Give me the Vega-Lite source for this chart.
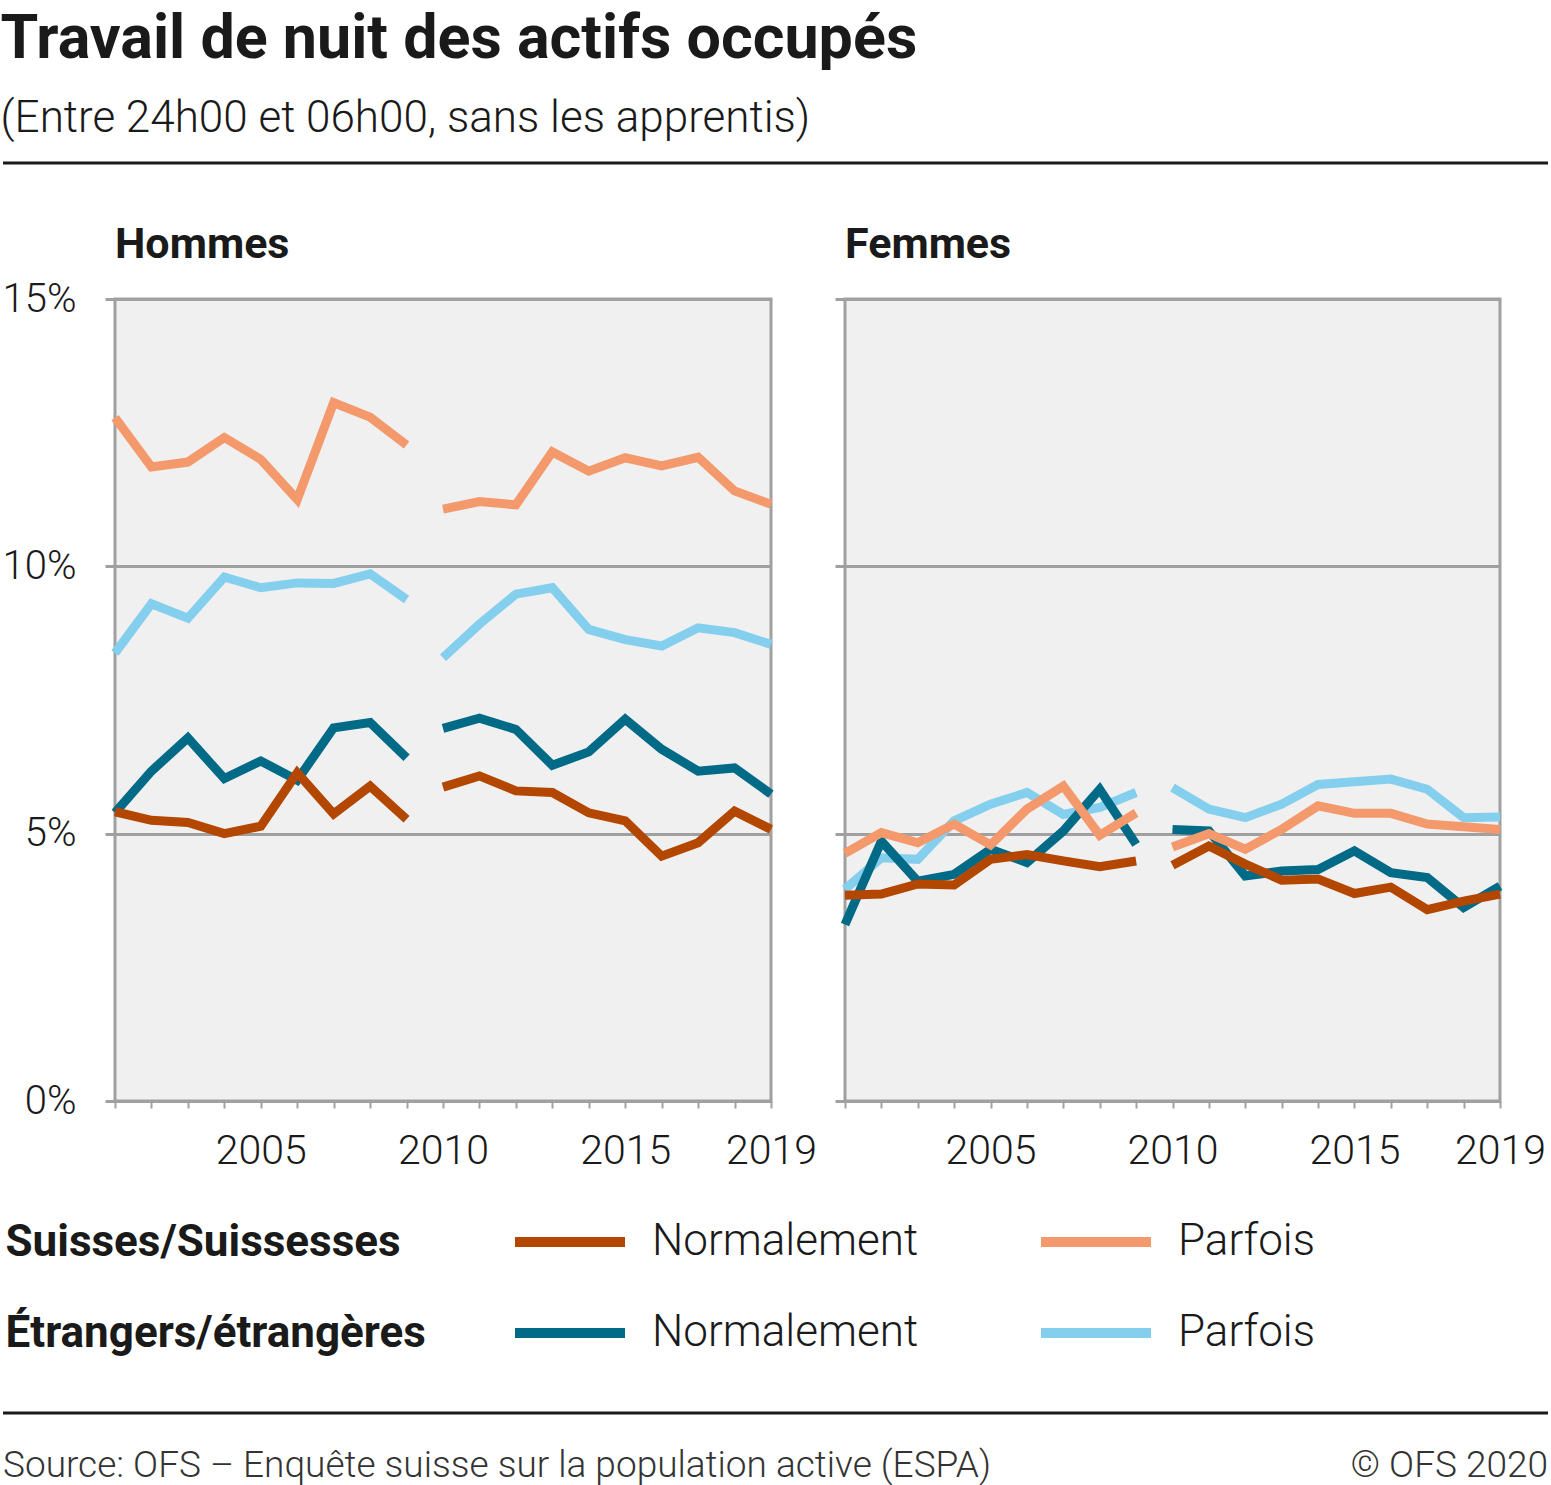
{
  "$schema": "https://vega.github.io/schema/vega-lite/v6.json",
  "padding": {"left": 0, "right": 3, "top": 8, "bottom": 0},
  "background": "white",
  "config": {"view": {"stroke": null}, "font": "Roboto"},
  "title": {
    "text": "Travail de nuit des actifs occupés",
    "subtitle": "(Entre 24h00 et 06h00, sans les apprentis)",
    "anchor": "start", "frame": "bounds",
    "font": "Roboto", "fontSize": 61, "fontWeight": "bold", "color": "#1a1a1a",
    "subtitleFont": "Roboto", "subtitleFontSize": 44, "subtitleFontWeight": 300, "subtitleColor": "#1a1a1a",
    "subtitlePadding": 26, "offset": 20
  },
  "datasets": {
    "nuit": [
      {"sexe":"Hommes","annee":2001,"serie":"Étrangers – Parfois","periode":"2001-2009","valeur":8.38},
      {"sexe":"Hommes","annee":2002,"serie":"Étrangers – Parfois","periode":"2001-2009","valeur":9.30},
      {"sexe":"Hommes","annee":2003,"serie":"Étrangers – Parfois","periode":"2001-2009","valeur":9.03},
      {"sexe":"Hommes","annee":2004,"serie":"Étrangers – Parfois","periode":"2001-2009","valeur":9.80},
      {"sexe":"Hommes","annee":2005,"serie":"Étrangers – Parfois","periode":"2001-2009","valeur":9.60},
      {"sexe":"Hommes","annee":2006,"serie":"Étrangers – Parfois","periode":"2001-2009","valeur":9.69},
      {"sexe":"Hommes","annee":2007,"serie":"Étrangers – Parfois","periode":"2001-2009","valeur":9.68},
      {"sexe":"Hommes","annee":2008,"serie":"Étrangers – Parfois","periode":"2001-2009","valeur":9.86},
      {"sexe":"Hommes","annee":2009,"serie":"Étrangers – Parfois","periode":"2001-2009","valeur":9.38},
      {"sexe":"Hommes","annee":2010,"serie":"Étrangers – Parfois","periode":"2010-2019","valeur":8.29},
      {"sexe":"Hommes","annee":2011,"serie":"Étrangers – Parfois","periode":"2010-2019","valeur":8.92},
      {"sexe":"Hommes","annee":2012,"serie":"Étrangers – Parfois","periode":"2010-2019","valeur":9.48},
      {"sexe":"Hommes","annee":2013,"serie":"Étrangers – Parfois","periode":"2010-2019","valeur":9.60},
      {"sexe":"Hommes","annee":2014,"serie":"Étrangers – Parfois","periode":"2010-2019","valeur":8.82},
      {"sexe":"Hommes","annee":2015,"serie":"Étrangers – Parfois","periode":"2010-2019","valeur":8.63},
      {"sexe":"Hommes","annee":2016,"serie":"Étrangers – Parfois","periode":"2010-2019","valeur":8.51},
      {"sexe":"Hommes","annee":2017,"serie":"Étrangers – Parfois","periode":"2010-2019","valeur":8.85},
      {"sexe":"Hommes","annee":2018,"serie":"Étrangers – Parfois","periode":"2010-2019","valeur":8.76},
      {"sexe":"Hommes","annee":2019,"serie":"Étrangers – Parfois","periode":"2010-2019","valeur":8.54},
      {"sexe":"Hommes","annee":2001,"serie":"Étrangers – Normalement","periode":"2001-2009","valeur":5.39},
      {"sexe":"Hommes","annee":2002,"serie":"Étrangers – Normalement","periode":"2001-2009","valeur":6.17},
      {"sexe":"Hommes","annee":2003,"serie":"Étrangers – Normalement","periode":"2001-2009","valeur":6.79},
      {"sexe":"Hommes","annee":2004,"serie":"Étrangers – Normalement","periode":"2001-2009","valeur":6.03},
      {"sexe":"Hommes","annee":2005,"serie":"Étrangers – Normalement","periode":"2001-2009","valeur":6.36},
      {"sexe":"Hommes","annee":2006,"serie":"Étrangers – Normalement","periode":"2001-2009","valeur":6.00},
      {"sexe":"Hommes","annee":2007,"serie":"Étrangers – Normalement","periode":"2001-2009","valeur":6.98},
      {"sexe":"Hommes","annee":2008,"serie":"Étrangers – Normalement","periode":"2001-2009","valeur":7.08},
      {"sexe":"Hommes","annee":2009,"serie":"Étrangers – Normalement","periode":"2001-2009","valeur":6.42},
      {"sexe":"Hommes","annee":2010,"serie":"Étrangers – Normalement","periode":"2010-2019","valeur":6.97},
      {"sexe":"Hommes","annee":2011,"serie":"Étrangers – Normalement","periode":"2010-2019","valeur":7.16},
      {"sexe":"Hommes","annee":2012,"serie":"Étrangers – Normalement","periode":"2010-2019","valeur":6.95},
      {"sexe":"Hommes","annee":2013,"serie":"Étrangers – Normalement","periode":"2010-2019","valeur":6.28},
      {"sexe":"Hommes","annee":2014,"serie":"Étrangers – Normalement","periode":"2010-2019","valeur":6.53},
      {"sexe":"Hommes","annee":2015,"serie":"Étrangers – Normalement","periode":"2010-2019","valeur":7.14},
      {"sexe":"Hommes","annee":2016,"serie":"Étrangers – Normalement","periode":"2010-2019","valeur":6.58},
      {"sexe":"Hommes","annee":2017,"serie":"Étrangers – Normalement","periode":"2010-2019","valeur":6.17},
      {"sexe":"Hommes","annee":2018,"serie":"Étrangers – Normalement","periode":"2010-2019","valeur":6.23},
      {"sexe":"Hommes","annee":2019,"serie":"Étrangers – Normalement","periode":"2010-2019","valeur":5.74},
      {"sexe":"Hommes","annee":2001,"serie":"Suisses – Parfois","periode":"2001-2009","valeur":12.78},
      {"sexe":"Hommes","annee":2002,"serie":"Suisses – Parfois","periode":"2001-2009","valeur":11.86},
      {"sexe":"Hommes","annee":2003,"serie":"Suisses – Parfois","periode":"2001-2009","valeur":11.95},
      {"sexe":"Hommes","annee":2004,"serie":"Suisses – Parfois","periode":"2001-2009","valeur":12.41},
      {"sexe":"Hommes","annee":2005,"serie":"Suisses – Parfois","periode":"2001-2009","valeur":12.00},
      {"sexe":"Hommes","annee":2006,"serie":"Suisses – Parfois","periode":"2001-2009","valeur":11.25},
      {"sexe":"Hommes","annee":2007,"serie":"Suisses – Parfois","periode":"2001-2009","valeur":13.06},
      {"sexe":"Hommes","annee":2008,"serie":"Suisses – Parfois","periode":"2001-2009","valeur":12.79},
      {"sexe":"Hommes","annee":2009,"serie":"Suisses – Parfois","periode":"2001-2009","valeur":12.27},
      {"sexe":"Hommes","annee":2010,"serie":"Suisses – Parfois","periode":"2010-2019","valeur":11.07},
      {"sexe":"Hommes","annee":2011,"serie":"Suisses – Parfois","periode":"2010-2019","valeur":11.21},
      {"sexe":"Hommes","annee":2012,"serie":"Suisses – Parfois","periode":"2010-2019","valeur":11.15},
      {"sexe":"Hommes","annee":2013,"serie":"Suisses – Parfois","periode":"2010-2019","valeur":12.14},
      {"sexe":"Hommes","annee":2014,"serie":"Suisses – Parfois","periode":"2010-2019","valeur":11.78},
      {"sexe":"Hommes","annee":2015,"serie":"Suisses – Parfois","periode":"2010-2019","valeur":12.03},
      {"sexe":"Hommes","annee":2016,"serie":"Suisses – Parfois","periode":"2010-2019","valeur":11.88},
      {"sexe":"Hommes","annee":2017,"serie":"Suisses – Parfois","periode":"2010-2019","valeur":12.04},
      {"sexe":"Hommes","annee":2018,"serie":"Suisses – Parfois","periode":"2010-2019","valeur":11.41},
      {"sexe":"Hommes","annee":2019,"serie":"Suisses – Parfois","periode":"2010-2019","valeur":11.16},
      {"sexe":"Hommes","annee":2001,"serie":"Suisses – Normalement","periode":"2001-2009","valeur":5.41},
      {"sexe":"Hommes","annee":2002,"serie":"Suisses – Normalement","periode":"2001-2009","valeur":5.25},
      {"sexe":"Hommes","annee":2003,"serie":"Suisses – Normalement","periode":"2001-2009","valeur":5.21},
      {"sexe":"Hommes","annee":2004,"serie":"Suisses – Normalement","periode":"2001-2009","valeur":5.00},
      {"sexe":"Hommes","annee":2005,"serie":"Suisses – Normalement","periode":"2001-2009","valeur":5.14},
      {"sexe":"Hommes","annee":2006,"serie":"Suisses – Normalement","periode":"2001-2009","valeur":6.14},
      {"sexe":"Hommes","annee":2007,"serie":"Suisses – Normalement","periode":"2001-2009","valeur":5.37},
      {"sexe":"Hommes","annee":2008,"serie":"Suisses – Normalement","periode":"2001-2009","valeur":5.89},
      {"sexe":"Hommes","annee":2009,"serie":"Suisses – Normalement","periode":"2001-2009","valeur":5.27},
      {"sexe":"Hommes","annee":2010,"serie":"Suisses – Normalement","periode":"2010-2019","valeur":5.87},
      {"sexe":"Hommes","annee":2011,"serie":"Suisses – Normalement","periode":"2010-2019","valeur":6.08},
      {"sexe":"Hommes","annee":2012,"serie":"Suisses – Normalement","periode":"2010-2019","valeur":5.80},
      {"sexe":"Hommes","annee":2013,"serie":"Suisses – Normalement","periode":"2010-2019","valeur":5.77},
      {"sexe":"Hommes","annee":2014,"serie":"Suisses – Normalement","periode":"2010-2019","valeur":5.39},
      {"sexe":"Hommes","annee":2015,"serie":"Suisses – Normalement","periode":"2010-2019","valeur":5.24},
      {"sexe":"Hommes","annee":2016,"serie":"Suisses – Normalement","periode":"2010-2019","valeur":4.58},
      {"sexe":"Hommes","annee":2017,"serie":"Suisses – Normalement","periode":"2010-2019","valeur":4.83},
      {"sexe":"Hommes","annee":2018,"serie":"Suisses – Normalement","periode":"2010-2019","valeur":5.42},
      {"sexe":"Hommes","annee":2019,"serie":"Suisses – Normalement","periode":"2010-2019","valeur":5.08},
      {"sexe":"Femmes","annee":2001,"serie":"Étrangers – Parfois","periode":"2001-2009","valeur":3.96},
      {"sexe":"Femmes","annee":2002,"serie":"Étrangers – Parfois","periode":"2001-2009","valeur":4.55},
      {"sexe":"Femmes","annee":2003,"serie":"Étrangers – Parfois","periode":"2001-2009","valeur":4.52},
      {"sexe":"Femmes","annee":2004,"serie":"Étrangers – Parfois","periode":"2001-2009","valeur":5.24},
      {"sexe":"Femmes","annee":2005,"serie":"Étrangers – Parfois","periode":"2001-2009","valeur":5.55},
      {"sexe":"Femmes","annee":2006,"serie":"Étrangers – Parfois","periode":"2001-2009","valeur":5.77},
      {"sexe":"Femmes","annee":2007,"serie":"Étrangers – Parfois","periode":"2001-2009","valeur":5.36},
      {"sexe":"Femmes","annee":2008,"serie":"Étrangers – Parfois","periode":"2001-2009","valeur":5.49},
      {"sexe":"Femmes","annee":2009,"serie":"Étrangers – Parfois","periode":"2001-2009","valeur":5.77},
      {"sexe":"Femmes","annee":2010,"serie":"Étrangers – Parfois","periode":"2010-2019","valeur":5.86},
      {"sexe":"Femmes","annee":2011,"serie":"Étrangers – Parfois","periode":"2010-2019","valeur":5.46},
      {"sexe":"Femmes","annee":2012,"serie":"Étrangers – Parfois","periode":"2010-2019","valeur":5.30},
      {"sexe":"Femmes","annee":2013,"serie":"Étrangers – Parfois","periode":"2010-2019","valeur":5.55},
      {"sexe":"Femmes","annee":2014,"serie":"Étrangers – Parfois","periode":"2010-2019","valeur":5.92},
      {"sexe":"Femmes","annee":2015,"serie":"Étrangers – Parfois","periode":"2010-2019","valeur":5.97},
      {"sexe":"Femmes","annee":2016,"serie":"Étrangers – Parfois","periode":"2010-2019","valeur":6.02},
      {"sexe":"Femmes","annee":2017,"serie":"Étrangers – Parfois","periode":"2010-2019","valeur":5.83},
      {"sexe":"Femmes","annee":2018,"serie":"Étrangers – Parfois","periode":"2010-2019","valeur":5.30},
      {"sexe":"Femmes","annee":2019,"serie":"Étrangers – Parfois","periode":"2010-2019","valeur":5.31},
      {"sexe":"Femmes","annee":2001,"serie":"Étrangers – Normalement","periode":"2001-2009","valeur":3.30},
      {"sexe":"Femmes","annee":2002,"serie":"Étrangers – Normalement","periode":"2001-2009","valeur":4.86},
      {"sexe":"Femmes","annee":2003,"serie":"Étrangers – Normalement","periode":"2001-2009","valeur":4.11},
      {"sexe":"Femmes","annee":2004,"serie":"Étrangers – Normalement","periode":"2001-2009","valeur":4.24},
      {"sexe":"Femmes","annee":2005,"serie":"Étrangers – Normalement","periode":"2001-2009","valeur":4.71},
      {"sexe":"Femmes","annee":2006,"serie":"Étrangers – Normalement","periode":"2001-2009","valeur":4.46},
      {"sexe":"Femmes","annee":2007,"serie":"Étrangers – Normalement","periode":"2001-2009","valeur":5.05},
      {"sexe":"Femmes","annee":2008,"serie":"Étrangers – Normalement","periode":"2001-2009","valeur":5.83},
      {"sexe":"Femmes","annee":2009,"serie":"Étrangers – Normalement","periode":"2001-2009","valeur":4.80},
      {"sexe":"Femmes","annee":2010,"serie":"Étrangers – Normalement","periode":"2010-2019","valeur":5.08},
      {"sexe":"Femmes","annee":2011,"serie":"Étrangers – Normalement","periode":"2010-2019","valeur":5.05},
      {"sexe":"Femmes","annee":2012,"serie":"Étrangers – Normalement","periode":"2010-2019","valeur":4.21},
      {"sexe":"Femmes","annee":2013,"serie":"Étrangers – Normalement","periode":"2010-2019","valeur":4.30},
      {"sexe":"Femmes","annee":2014,"serie":"Étrangers – Normalement","periode":"2010-2019","valeur":4.33},
      {"sexe":"Femmes","annee":2015,"serie":"Étrangers – Normalement","periode":"2010-2019","valeur":4.68},
      {"sexe":"Femmes","annee":2016,"serie":"Étrangers – Normalement","periode":"2010-2019","valeur":4.27},
      {"sexe":"Femmes","annee":2017,"serie":"Étrangers – Normalement","periode":"2010-2019","valeur":4.18},
      {"sexe":"Femmes","annee":2018,"serie":"Étrangers – Normalement","periode":"2010-2019","valeur":3.62},
      {"sexe":"Femmes","annee":2019,"serie":"Étrangers – Normalement","periode":"2010-2019","valeur":4.02},
      {"sexe":"Femmes","annee":2001,"serie":"Suisses – Parfois","periode":"2001-2009","valeur":4.63},
      {"sexe":"Femmes","annee":2002,"serie":"Suisses – Parfois","periode":"2001-2009","valeur":5.02},
      {"sexe":"Femmes","annee":2003,"serie":"Suisses – Parfois","periode":"2001-2009","valeur":4.83},
      {"sexe":"Femmes","annee":2004,"serie":"Suisses – Parfois","periode":"2001-2009","valeur":5.18},
      {"sexe":"Femmes","annee":2005,"serie":"Suisses – Parfois","periode":"2001-2009","valeur":4.79},
      {"sexe":"Femmes","annee":2006,"serie":"Suisses – Parfois","periode":"2001-2009","valeur":5.46},
      {"sexe":"Femmes","annee":2007,"serie":"Suisses – Parfois","periode":"2001-2009","valeur":5.89},
      {"sexe":"Femmes","annee":2008,"serie":"Suisses – Parfois","periode":"2001-2009","valeur":4.97},
      {"sexe":"Femmes","annee":2009,"serie":"Suisses – Parfois","periode":"2001-2009","valeur":5.39},
      {"sexe":"Femmes","annee":2010,"serie":"Suisses – Parfois","periode":"2010-2019","valeur":4.75},
      {"sexe":"Femmes","annee":2011,"serie":"Suisses – Parfois","periode":"2010-2019","valeur":5.00},
      {"sexe":"Femmes","annee":2012,"serie":"Suisses – Parfois","periode":"2010-2019","valeur":4.71},
      {"sexe":"Femmes","annee":2013,"serie":"Suisses – Parfois","periode":"2010-2019","valeur":5.08},
      {"sexe":"Femmes","annee":2014,"serie":"Suisses – Parfois","periode":"2010-2019","valeur":5.52},
      {"sexe":"Femmes","annee":2015,"serie":"Suisses – Parfois","periode":"2010-2019","valeur":5.38},
      {"sexe":"Femmes","annee":2016,"serie":"Suisses – Parfois","periode":"2010-2019","valeur":5.38},
      {"sexe":"Femmes","annee":2017,"serie":"Suisses – Parfois","periode":"2010-2019","valeur":5.18},
      {"sexe":"Femmes","annee":2018,"serie":"Suisses – Parfois","periode":"2010-2019","valeur":5.13},
      {"sexe":"Femmes","annee":2019,"serie":"Suisses – Parfois","periode":"2010-2019","valeur":5.08},
      {"sexe":"Femmes","annee":2001,"serie":"Suisses – Normalement","periode":"2001-2009","valeur":3.85},
      {"sexe":"Femmes","annee":2002,"serie":"Suisses – Normalement","periode":"2001-2009","valeur":3.87},
      {"sexe":"Femmes","annee":2003,"serie":"Suisses – Normalement","periode":"2001-2009","valeur":4.06},
      {"sexe":"Femmes","annee":2004,"serie":"Suisses – Normalement","periode":"2001-2009","valeur":4.04},
      {"sexe":"Femmes","annee":2005,"serie":"Suisses – Normalement","periode":"2001-2009","valeur":4.52},
      {"sexe":"Femmes","annee":2006,"serie":"Suisses – Normalement","periode":"2001-2009","valeur":4.61},
      {"sexe":"Femmes","annee":2007,"serie":"Suisses – Normalement","periode":"2001-2009","valeur":4.49},
      {"sexe":"Femmes","annee":2008,"serie":"Suisses – Normalement","periode":"2001-2009","valeur":4.38},
      {"sexe":"Femmes","annee":2009,"serie":"Suisses – Normalement","periode":"2001-2009","valeur":4.49},
      {"sexe":"Femmes","annee":2010,"serie":"Suisses – Normalement","periode":"2010-2019","valeur":4.41},
      {"sexe":"Femmes","annee":2011,"serie":"Suisses – Normalement","periode":"2010-2019","valeur":4.77},
      {"sexe":"Femmes","annee":2012,"serie":"Suisses – Normalement","periode":"2010-2019","valeur":4.43},
      {"sexe":"Femmes","annee":2013,"serie":"Suisses – Normalement","periode":"2010-2019","valeur":4.13},
      {"sexe":"Femmes","annee":2014,"serie":"Suisses – Normalement","periode":"2010-2019","valeur":4.15},
      {"sexe":"Femmes","annee":2015,"serie":"Suisses – Normalement","periode":"2010-2019","valeur":3.88},
      {"sexe":"Femmes","annee":2016,"serie":"Suisses – Normalement","periode":"2010-2019","valeur":4.00},
      {"sexe":"Femmes","annee":2017,"serie":"Suisses – Normalement","periode":"2010-2019","valeur":3.58},
      {"sexe":"Femmes","annee":2018,"serie":"Suisses – Normalement","periode":"2010-2019","valeur":3.74},
      {"sexe":"Femmes","annee":2019,"serie":"Suisses – Normalement","periode":"2010-2019","valeur":3.87}
    ],
    "legende": [
      {"nat":"Suisses/Suissesses","type":"Normalement","serie":"Suisses – Normalement"},
      {"nat":"Suisses/Suissesses","type":"Parfois","serie":"Suisses – Parfois"},
      {"nat":"Étrangers/étrangères","type":"Normalement","serie":"Étrangers – Normalement"},
      {"nat":"Étrangers/étrangères","type":"Parfois","serie":"Étrangers – Parfois"}
    ],
    "pied": [
      {"texte":"Source: OFS – Enquête suisse sur la population active (ESPA)","pos":"gauche"},
      {"texte":"© OFS 2020","pos":"droite"}
    ],
    "ligne": [{"trait":"séparation"}]
  },
  "vconcat": [
    {
      "width": 1545, "height": 136,
      "data": {"name": "ligne"},
      "mark": {"type": "rule", "color": "#1a1a1a", "strokeWidth": 3},
      "encoding": {"y": {"datum": 1, "type": "quantitative", "scale": {"domain": [0, 1]}, "axis": null}}
    },
    {
      "hconcat": [
        {
          "width": 38, "height": 802,
          "data": {"name": "ligne"},
          "mark": {"type": "text", "text": ""},
          "encoding": {}
        },
        {
          "width": 656, "height": 802,
          "data": {"name": "nuit"},
          "view": {"fill": "#f0f0f0", "stroke": "#a0a0a0", "strokeWidth": 3},
          "title": {"text": "Hommes", "anchor": "start", "frame": "group", "font": "Roboto", "fontSize": 43, "fontWeight": "bold", "color": "#1a1a1a", "offset": 12},
          "transform": [{"filter": "datum.sexe === 'Hommes'"}],
          "mark": {"type": "line", "strokeWidth": 9, "strokeCap": "butt", "strokeJoin": "miter"},
          "encoding": {
            "x": {"field": "annee", "type": "quantitative", "scale": {"domain": [2001, 2019], "nice": false, "zero": false},
              "axis": {"title": null, "grid": false, "values": [2001,2002,2003,2004,2005,2006,2007,2008,2009,2010,2011,2012,2013,2014,2015,2016,2017,2018,2019],
                "labelExpr": "indexof([2005,2010,2015,2019], datum.value) >= 0 ? format(datum.value, 'd') : ''",
                "labelFlush": false, "labelOverlap": false, "labelFont": "Roboto", "labelFontSize": 41, "labelFontWeight": 300, "labelColor": "#1a1a1a",
                "labelPadding": 23, "tickSize": 7, "tickWidth": 2, "tickColor": "#a0a0a0", "domainColor": "#a0a0a0", "domainWidth": 3}},
            "y": {"field": "valeur", "type": "quantitative", "scale": {"domain": [0, 15], "nice": false},
              "axis": {"title": null, "values": [0, 5, 10, 15], "labelExpr": "datum.value + '%'", "domain": false,
                "labelFont": "Roboto", "labelFontSize": 40, "labelFontWeight": 300, "labelColor": "#1a1a1a", "labelPadding": 29,
                "tickSize": 10, "tickWidth": 3, "tickColor": "#a0a0a0", "gridColor": "#a0a0a0", "gridWidth": 3}},
            "color": {"field": "serie", "type": "nominal",
              "scale": {"domain": ["Étrangers – Parfois", "Étrangers – Normalement", "Suisses – Parfois", "Suisses – Normalement"], "range": ["#85cfee", "#006a87", "#f4996b", "#b34700"]},
              "legend": null},
            "detail": {"field": "periode"}
          }
        },
        {
          "width": 655, "height": 802,
          "data": {"name": "nuit"},
          "view": {"fill": "#f0f0f0", "stroke": "#a0a0a0", "strokeWidth": 3},
          "title": {"text": "Femmes", "anchor": "start", "frame": "group", "font": "Roboto", "fontSize": 43, "fontWeight": "bold", "color": "#1a1a1a", "offset": 31},
          "transform": [{"filter": "datum.sexe === 'Femmes'"}],
          "mark": {"type": "line", "strokeWidth": 9, "strokeCap": "butt", "strokeJoin": "miter"},
          "encoding": {
            "x": {"field": "annee", "type": "quantitative", "scale": {"domain": [2001, 2019], "nice": false, "zero": false},
              "axis": {"title": null, "grid": false, "values": [2001,2002,2003,2004,2005,2006,2007,2008,2009,2010,2011,2012,2013,2014,2015,2016,2017,2018,2019],
                "labelExpr": "indexof([2005,2010,2015,2019], datum.value) >= 0 ? format(datum.value, 'd') : ''",
                "labelFlush": false, "labelOverlap": false, "labelFont": "Roboto", "labelFontSize": 41, "labelFontWeight": 300, "labelColor": "#1a1a1a",
                "labelPadding": 23, "tickSize": 7, "tickWidth": 2, "tickColor": "#a0a0a0", "domainColor": "#a0a0a0", "domainWidth": 3}},
            "y": {"field": "valeur", "type": "quantitative", "scale": {"domain": [0, 15], "nice": false},
              "axis": {"title": null, "values": [0, 5, 10, 15], "labels": false, "domain": false,
                "tickSize": 10, "tickWidth": 3, "tickColor": "#a0a0a0", "gridColor": "#a0a0a0", "gridWidth": 3}},
            "color": {"field": "serie", "type": "nominal",
              "scale": {"domain": ["Étrangers – Parfois", "Étrangers – Normalement", "Suisses – Parfois", "Suisses – Normalement"], "range": ["#85cfee", "#006a87", "#f4996b", "#b34700"]},
              "legend": null},
            "detail": {"field": "periode"}
          }
        }
      ],
      "spacing": 74,
      "bounds": "flush",
      "resolve": {"scale": {"x": "independent", "y": "independent"}}
    },
    {
      "width": 1545, "height": 1114,
      "data": {"name": "legende"},
      "encoding": {
        "x": {"field": "type", "type": "nominal", "scale": {"type": "point", "domain": ["Normalement", "Parfois"], "range": [567, 1093], "padding": 0}, "axis": null},
        "y": {"field": "nat", "type": "nominal", "scale": {"type": "point", "domain": ["Suisses/Suissesses", "Étrangers/étrangères"], "range": [943, 1034], "padding": 0},
          "axis": {"title": null, "orient": "left", "domain": false, "ticks": false, "tickSize": 0, "labelAlign": "left", "labelPadding": -2, "labelLimit": 0,
            "labelFont": "Roboto", "labelFontSize": 44, "labelFontWeight": "bold", "labelColor": "#1a1a1a"}}
      },
      "layer": [
        {
          "mark": {"type": "point", "shape": "stroke", "size": 12100, "strokeWidth": 10, "filled": false, "opacity": 1},
          "encoding": {
            "color": {"field": "serie", "type": "nominal",
              "scale": {"domain": ["Étrangers – Parfois", "Étrangers – Normalement", "Suisses – Parfois", "Suisses – Normalement"], "range": ["#85cfee", "#006a87", "#f4996b", "#b34700"]},
              "legend": null}
          }
        },
        {
          "mark": {"type": "text", "align": "left", "baseline": "middle", "dx": 82, "font": "Roboto", "fontSize": 44, "fontWeight": 300, "color": "#1a1a1a"},
          "encoding": {"text": {"field": "type"}}
        }
      ]
    },
    {
      "width": 1545, "height": 73,
      "layer": [
        {
          "data": {"name": "ligne"},
          "mark": {"type": "rule", "color": "#1a1a1a", "strokeWidth": 3},
          "encoding": {"y": {"datum": 1, "type": "quantitative", "scale": {"domain": [0, 1]}, "axis": null}}
        },
        {
          "data": {"name": "pied"},
          "transform": [{"filter": "datum.pos === 'gauche'"}],
          "mark": {"type": "text", "align": "left", "baseline": "middle", "dy": 16, "font": "Roboto", "fontSize": 37, "fontWeight": 300, "color": "#333333"},
          "encoding": {
            "x": {"field": "pos", "type": "nominal", "scale": {"type": "point", "domain": ["gauche", "droite"], "range": [0, 1545], "padding": 0}, "axis": null},
            "text": {"field": "texte"}
          }
        },
        {
          "data": {"name": "pied"},
          "transform": [{"filter": "datum.pos === 'droite'"}],
          "mark": {"type": "text", "align": "right", "baseline": "middle", "dy": 16, "font": "Roboto", "fontSize": 37, "fontWeight": 300, "color": "#333333"},
          "encoding": {
            "x": {"field": "pos", "type": "nominal", "scale": {"type": "point", "domain": ["gauche", "droite"], "range": [0, 1545], "padding": 0}, "axis": null},
            "text": {"field": "texte"}
          }
        }
      ],
      "resolve": {"scale": {"y": "independent"}}
    }
  ],
  "spacing": 0,
  "bounds": "flush"
}
